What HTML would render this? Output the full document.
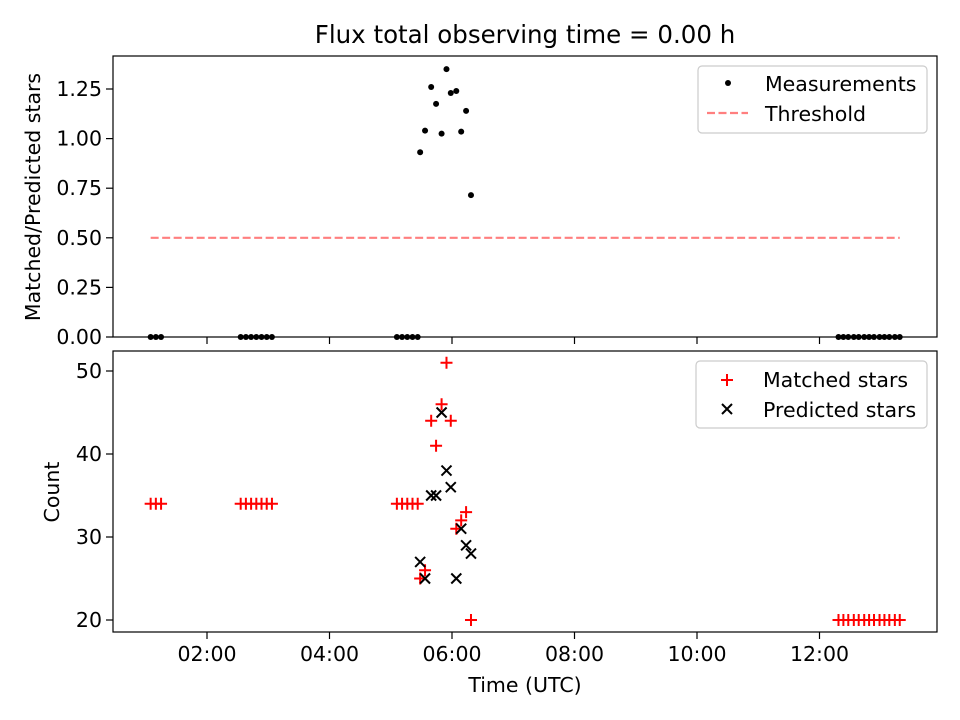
<!DOCTYPE html>
<html><head><meta charset="utf-8"><style>
body{margin:0;background:#fff}
svg{display:block;font-family:"DejaVu Sans","Liberation Sans",sans-serif}
</style></head><body>
<svg id="chart" width="960" height="720" viewBox="0 0 960 720" xmlns="http://www.w3.org/2000/svg">
<rect width="960" height="720" fill="#fff"/>
<text x="525" y="43" font-size="24.5" text-anchor="middle">Flux total observing time = 0.00 h</text>
<text transform="translate(40,197) rotate(-90)" font-size="20.5" text-anchor="middle">Matched/Predicted stars</text>
<text transform="translate(59,492) rotate(-90)" font-size="20.5" text-anchor="middle">Count</text>
<text x="525" y="692" font-size="20.5" text-anchor="middle">Time (UTC)</text>
<g id="gtop"></g>
<g id="gbot"></g>
<g>
<rect x="698" y="66" width="229" height="67" rx="4" fill="#fff" fill-opacity="0.8" stroke="#ccc" stroke-width="1.2"/>
<circle cx="728" cy="83" r="3" fill="#000"/>
<text x="765" y="91" font-size="20.5">Measurements</text>
<line x1="707" y1="113" x2="748" y2="113" stroke="#ff7f7f" stroke-width="2.2" stroke-dasharray="8,3.5"/>
<text x="765" y="121" font-size="20.5">Threshold</text>
</g>
<g>
<rect x="696" y="361" width="231" height="67" rx="4" fill="#fff" fill-opacity="0.8" stroke="#ccc" stroke-width="1.2"/>
<path d="M721 380h12M727 374v12" stroke="red" stroke-width="2"/>
<text x="763" y="387" font-size="20.5">Matched stars</text>
<path d="M722 404l10 10M732 404l-10 10" stroke="#000" stroke-width="2"/>
<text x="763" y="417" font-size="20.5">Predicted stars</text>
</g>
</svg>
<script>
const zeroTimes = [1.08,1.165,1.25, 2.55,2.635,2.72,2.805,2.89,2.975,3.06, 5.10,5.185,5.27,5.355,5.44,
  12.31,12.39,12.47,12.56,12.64,12.73,12.81,12.89,12.98,13.06,13.14,13.23,13.31];
const zeroMatched = [34,34,34, 34,34,34,34,34,34,34, 34,34,34,34,34, 20,20,20,20,20,20,20,20,20,20,20,20,20];
const measTimes = [5.48,5.56,5.66,5.74,5.83,5.91,5.98,6.07,6.15,6.23,6.31];
const measMatched = [25,26,44,41,46,51,44,31,32,33,20];
const measPredicted = [27,25,35,35,45,38,36,25,31,29,28];
const measRatio = [0.931,1.04,1.26,1.175,1.025,1.35,1.23,1.24,1.035,1.14,0.715];
const threshold = 0.5;
const xTicks = [2,4,6,8,10,12];
const xTickLabels = ["02:00","04:00","06:00","08:00","10:00","12:00"];
const topYTicks = [0,0.25,0.5,0.75,1.0,1.25];
const topYLabels = ["0.00","0.25","0.50","0.75","1.00","1.25"];
const botYTicks = [20,30,40,50];
const botYLabels = ["20","30","40","50"];

const NS="http://www.w3.org/2000/svg";
const L=113,R=937;
const sx=t=>84.5+t*61.25;
const syTop=v=>337-v*198.4;
const syBot=v=>620-(v-20)*8.3;
function mk(tag,attrs,parent){const e=document.createElementNS(NS,tag);for(const k in attrs)e.setAttribute(k,attrs[k]);parent.appendChild(e);return e;}
const gTop=document.getElementById('gtop'), gBot=document.getElementById('gbot');

topYTicks.forEach((v,i)=>{
  const y=syTop(v);
  const t=mk('line',{x1:L-7,x2:L,y1:y,y2:y,stroke:'#000','stroke-width':1.2},gTop);
  
  
  const lb=mk('text',{x:L-11,y:y+7,'font-size':20.5,'text-anchor':'end'},gTop);lb.textContent=topYLabels[i];
  
  
});
botYTicks.forEach((v,i)=>{
  const y=syBot(v);
  const t=mk('line',{x1:L-7,x2:L,y1:y,y2:y,stroke:'#000','stroke-width':1.2},gBot);
  
  
  const lb=mk('text',{x:L-11,y:y+7,'font-size':20.5,'text-anchor':'end'},gBot);lb.textContent=botYLabels[i];
  
  
});
xTicks.forEach((v,i)=>{
  const x=sx(v);
  const t1=mk('line',{x1:x,x2:x,y1:337,y2:344,stroke:'#000','stroke-width':1.2},gTop);
  
  
  const t2=mk('line',{x1:x,x2:x,y1:632,y2:639,stroke:'#000','stroke-width':1.2},gBot);
  
  
  const lb=mk('text',{x:x,y:661,'font-size':20.5,'text-anchor':'middle'},gBot);lb.textContent=xTickLabels[i];
  
  
});

const allT=zeroTimes.concat(measTimes);
const tmin=Math.min(...allT), tmax=Math.max(...allT);
const th=mk('line',{x1:sx(tmin),x2:sx(tmax),y1:syTop(threshold),y2:syTop(threshold),stroke:'#ff7f7f','stroke-width':2.2,'stroke-dasharray':'8,3.5'},gTop);



zeroTimes.forEach(t=>{
  const c=mk('circle',{cx:sx(t),cy:syTop(0),r:3,fill:'#000'},gTop);
  
  
});
measTimes.forEach((t,i)=>{
  const c=mk('circle',{cx:sx(t),cy:syTop(measRatio[i]),r:3,fill:'#000'},gTop);
  
  
});
function plus(t,v){
  const x=sx(t),y=syBot(v);
  const p=mk('path',{d:`M${x-6} ${y}h12M${x} ${y-6}v12`,stroke:'red','stroke-width':2},gBot);
  
  
}
function cross(t,v){
  const x=sx(t),y=syBot(v);
  const p=mk('path',{d:`M${x-5} ${y-5}l10 10M${x+5} ${y-5}l-10 10`,stroke:'#000','stroke-width':2},gBot);
  
  
}
zeroTimes.forEach((t,i)=>plus(t,zeroMatched[i]));
measTimes.forEach((t,i)=>plus(t,measMatched[i]));
measTimes.forEach((t,i)=>cross(t,measPredicted[i]));

const f1=mk('rect',{x:L,y:56,width:R-L,height:281,fill:'none',stroke:'#000','stroke-width':1.2},gTop);


const f2=mk('rect',{x:L,y:351,width:R-L,height:281,fill:'none',stroke:'#000','stroke-width':1.2},gBot);


</script>
</body></html>
